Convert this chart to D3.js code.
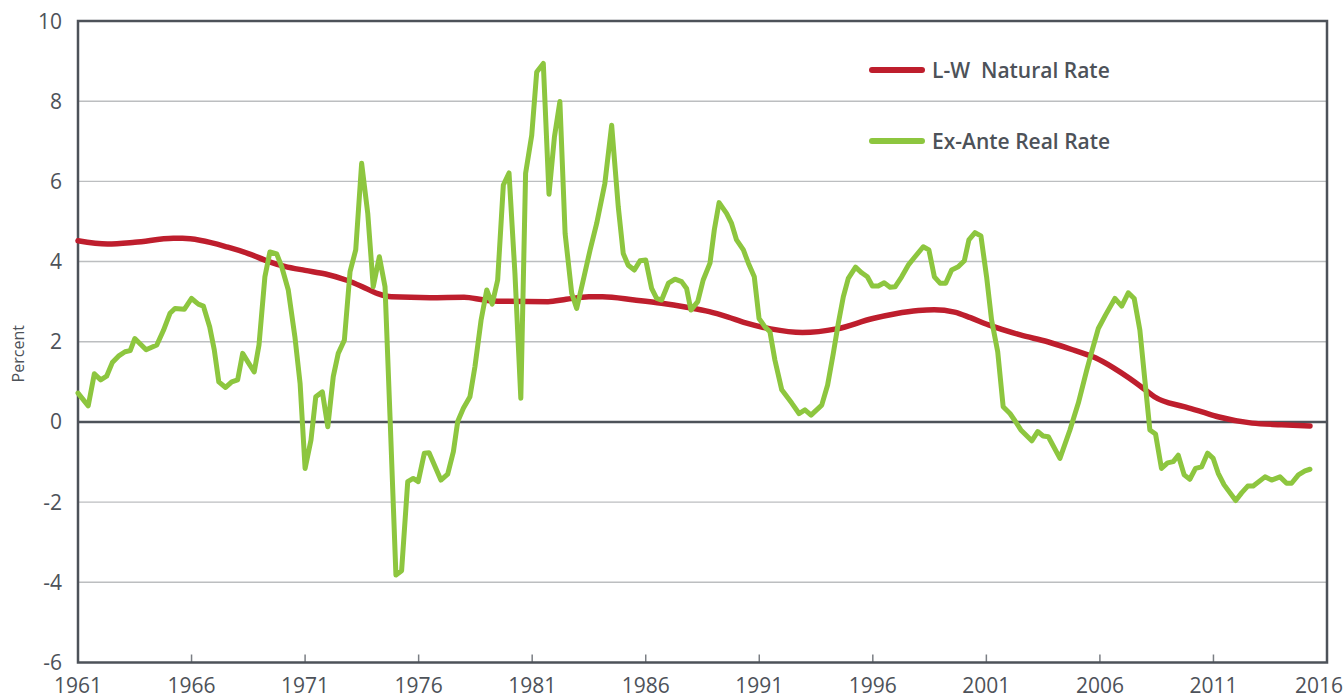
<!DOCTYPE html>
<html>
<head>
<meta charset="utf-8">
<script src="https://cdn.jsdelivr.net/npm/d3@7"></script>
<style>
  html, body { margin: 0; padding: 0; background: #fff; }
  svg { display: block; font-family: "Open Sans", "Noto Sans", sans-serif; }
  .grid line { stroke: #bcbec0; stroke-width: 1.4; }
  .tick-label { fill: #4d5259; font-size: 21px; }
  .legend-label { fill: #4d5259; font-size: 21px; font-weight: 600; }
</style>
</head>
<body>
<svg id="chart" width="1344" height="700"></svg>
<script>
// L-W natural rate (decimal year, percent)
const naturalYears = [1961.0, 1962.3, 1963.5, 1965.2, 1965.6, 1967.6, 1968.5, 1969.4, 1970.1, 1971.0,
  1971.9, 1972.8, 1973.5, 1974.2, 1974.8, 1976.5, 1978.0, 1978.9, 1979.6, 1981.7,
  1982.5, 1983.5, 1984.1, 1985.5, 1986.7, 1987.8, 1988.8, 1989.6, 1990.4, 1991.5,
  1992.9, 1994.4, 1996.0, 1997.0, 1998.0, 1998.7, 1999.6, 2000.3, 2001.1, 2002.5,
  2003.7, 2004.8, 2005.8, 2006.6, 2007.3, 2008.0, 2008.4, 2009.7, 2010.5, 2011.2,
  2012.7, 2014.0, 2015.25];
const naturalRate = [4.52, 4.44, 4.48, 4.58, 4.58, 4.36, 4.2, 4.0, 3.88, 3.78,
  3.69, 3.54, 3.38, 3.2, 3.12, 3.1, 3.11, 3.04, 3.01, 3.0,
  3.06, 3.12, 3.12, 3.04, 2.96, 2.86, 2.75, 2.62, 2.47, 2.32,
  2.23, 2.32, 2.58, 2.7, 2.78, 2.8, 2.74, 2.6, 2.42, 2.17,
  2.0, 1.8, 1.6, 1.35, 1.09, 0.8, 0.63, 0.38, 0.25, 0.13,
  -0.03, -0.07, -0.1];

// Ex-ante real rate vertices
const realYears = [1961.0, 1961.45, 1961.72, 1962.0, 1962.26, 1962.51, 1962.78, 1963.07, 1963.3, 1963.5,
  1964.0, 1964.47, 1964.76, 1965.05, 1965.27, 1965.68, 1966.0, 1966.3, 1966.52, 1966.8,
  1967.0, 1967.2, 1967.5, 1967.77, 1968.03, 1968.25, 1968.5, 1968.76, 1968.97, 1969.23,
  1969.45, 1969.75, 1969.97, 1970.26, 1970.55, 1970.78, 1971.0, 1971.26, 1971.47, 1971.76,
  1972.0, 1972.24, 1972.46, 1972.73, 1972.98, 1973.23, 1973.49, 1973.76, 1974.0, 1974.27,
  1974.52, 1974.74, 1975.0, 1975.25, 1975.52, 1975.76, 1975.98, 1976.25, 1976.46, 1976.98,
  1977.28, 1977.53, 1977.72, 1977.97, 1978.26, 1978.48, 1978.75, 1979.0, 1979.24, 1979.48,
  1979.73, 1979.98, 1980.24, 1980.5, 1980.71, 1980.98, 1981.2, 1981.49, 1981.74, 1981.98,
  1982.22, 1982.45, 1982.74, 1982.96, 1983.25, 1983.55, 1983.84, 1984.2, 1984.5, 1984.79,
  1985.01, 1985.23, 1985.5, 1985.75, 1986.0, 1986.26, 1986.48, 1986.7, 1987.0, 1987.29,
  1987.58, 1987.8, 1987.99, 1988.29, 1988.53, 1988.83, 1989.02, 1989.23, 1989.56, 1989.78,
  1990.0, 1990.3, 1990.52, 1990.78, 1990.99, 1991.25, 1991.47, 1991.69, 1991.99, 1992.43,
  1992.75, 1993.01, 1993.28, 1993.75, 1994.01, 1994.26, 1994.48, 1994.7, 1994.92, 1995.24,
  1995.51, 1995.76, 1995.98, 1996.24, 1996.5, 1996.76, 1996.98, 1997.27, 1997.56, 1997.83,
  1998.22, 1998.47, 1998.71, 1998.96, 1999.21, 1999.47, 1999.76, 2000.03, 2000.23, 2000.5,
  2000.76, 2001.01, 2001.23, 2001.5, 2001.74, 2002.04, 2002.26, 2002.52, 2003.0, 2003.26,
  2003.5, 2003.73, 2004.24, 2004.68, 2005.05, 2005.42, 2005.66, 2005.93, 2006.25, 2006.66,
  2006.96, 2007.25, 2007.51, 2007.76, 2007.98, 2008.2, 2008.45, 2008.71, 2008.98, 2009.23,
  2009.45, 2009.71, 2009.96, 2010.21, 2010.48, 2010.74, 2010.99, 2011.21, 2011.47, 2011.98,
  2012.24, 2012.51, 2012.75, 2013.27, 2013.56, 2013.93, 2014.22, 2014.44, 2014.74, 2015.03,
  2015.25];
const realRate = [0.72, 0.40, 1.20, 1.05, 1.14, 1.48, 1.64, 1.75, 1.78, 2.08,
  1.80, 1.92, 2.28, 2.71, 2.83, 2.81, 3.08, 2.94, 2.89, 2.37,
  1.80, 1.0, 0.86, 1.0, 1.05, 1.71, 1.48, 1.25, 1.92, 3.62,
  4.24, 4.19, 3.87, 3.29, 2.13, 0.96, -1.16, -0.45, 0.63, 0.75,
  -0.12, 1.13, 1.71, 2.04, 3.75, 4.29, 6.45, 5.2, 3.37, 4.12,
  3.37, 0.13, -3.82, -3.71, -1.49, -1.41, -1.49, -0.78, -0.77, -1.45,
  -1.30, -0.74, 0.01, 0.34, 0.63, 1.38, 2.54, 3.29, 2.94, 3.54,
  5.91, 6.21, 3.71, 0.59, 6.2, 7.15, 8.73, 8.94, 5.68, 7.11,
  7.99, 4.70, 3.21, 2.83, 3.54, 4.29, 4.95, 5.95, 7.40, 5.37,
  4.2, 3.91, 3.79, 4.02, 4.04, 3.33, 3.08, 3.04, 3.46, 3.56,
  3.5, 3.33, 2.79, 3.0, 3.54, 3.96, 4.79, 5.47, 5.2, 4.95,
  4.54, 4.29, 3.96, 3.62, 2.58, 2.37, 2.25, 1.54, 0.80, 0.47,
  0.21, 0.30, 0.17, 0.42, 0.92, 1.71, 2.46, 3.12, 3.58, 3.86,
  3.72, 3.62, 3.39, 3.39, 3.47, 3.36, 3.37, 3.62, 3.91, 4.1,
  4.37, 4.29, 3.62, 3.46, 3.46, 3.79, 3.87, 4.02, 4.54, 4.72,
  4.64, 3.62, 2.54, 1.75, 0.38, 0.21, 0.03, -0.2, -0.47, -0.24,
  -0.35, -0.37, -0.91, -0.2, 0.47, 1.29, 1.79, 2.33, 2.67, 3.08,
  2.89, 3.22, 3.08, 2.29, 1.04, -0.2, -0.3, -1.16, -1.02, -0.99,
  -0.83, -1.32, -1.43, -1.16, -1.12, -0.78, -0.91, -1.28, -1.57, -1.96,
  -1.77, -1.60, -1.60, -1.37, -1.45, -1.37, -1.53, -1.53, -1.32, -1.22,
  -1.18];

const xTicks = [1961, 1966, 1971, 1976, 1981, 1986, 1991, 1996, 2001, 2006, 2011, 2016];
const yTicks = [-6, -4, -2, 0, 2, 4, 6, 8, 10];

const seriesNames = ['L-W  Natural Rate', 'Ex-Ante Real Rate'];
const seriesColors = ['#be1e2d', '#8dc63f'];

const svg = d3.select('#chart');
const plot = { left: 78, right: 1327, top: 21, bottom: 662.5 };
const axisColor = '#4d5259';

const x = d3.scaleLinear().domain([1961, 2016]).range([plot.left, plot.right]);
const y = d3.scaleLinear().domain([-6, 10]).range([plot.bottom, plot.top]);

// horizontal grid lines
svg.append('g')
  .attr('class', 'grid')
  .selectAll('line')
  .data(yTicks.filter((d) => d !== 0 && d !== -6 && d !== 10))
  .join('line')
  .attr('x1', plot.left)
  .attr('x2', plot.right)
  .attr('y1', (d) => y(d))
  .attr('y2', (d) => y(d));

// y tick labels
svg.append('g')
  .selectAll('text')
  .data(yTicks)
  .join('text')
  .attr('class', 'tick-label')
  .attr('x', plot.left - 16)
  .attr('y', (d) => y(d))
  .attr('dy', '0.36em')
  .attr('text-anchor', 'end')
  .text((d) => d);

// x ticks, pointing up into the plot
svg.append('g')
  .selectAll('line')
  .data(xTicks.slice(1, -1))
  .join('line')
  .attr('x1', (d) => x(d))
  .attr('x2', (d) => x(d))
  .attr('y1', plot.bottom)
  .attr('y2', plot.bottom - 8)
  .attr('stroke', '#7a7e84')
  .attr('stroke-width', 1.5);

// last label sits flush with the right edge, as in the original
const lastTick = xTicks[xTicks.length - 1];
svg.append('g')
  .selectAll('text')
  .data(xTicks)
  .join('text')
  .attr('class', 'tick-label')
  .attr('x', (d) => (d === lastTick ? 1343 : x(d)))
  .attr('y', 693)
  .attr('text-anchor', (d) => (d === lastTick ? 'end' : 'middle'))
  .text((d) => d);

svg.append('text')
  .attr('class', 'tick-label')
  .attr('transform', `translate(24, ${y(2) + 12}) rotate(-90)`)
  .attr('text-anchor', 'middle')
  .style('font-size', '16px')
  .text('Percent');

// frame and zero line
svg.append('rect')
  .attr('x', plot.left)
  .attr('y', plot.top)
  .attr('width', plot.right - plot.left)
  .attr('height', plot.bottom - plot.top)
  .attr('fill', 'none')
  .attr('stroke', axisColor)
  .attr('stroke-width', 2.5);

svg.append('line')
  .attr('x1', plot.left)
  .attr('x2', plot.right)
  .attr('y1', y(0))
  .attr('y2', y(0))
  .attr('stroke', axisColor)
  .attr('stroke-width', 2.5);

const naturalData = naturalYears.map((yr, i) => ({ x: yr, y: naturalRate[i] }));
const realData = realYears.map((yr, i) => ({ x: yr, y: realRate[i] }));

svg.append('path')
  .datum(naturalData)
  .attr('fill', 'none')
  .attr('stroke', seriesColors[0])
  .attr('stroke-width', 5.5)
  .attr('stroke-linecap', 'round')
  .attr('d', d3.line().x((d) => x(d.x)).y((d) => y(d.y)).curve(d3.curveMonotoneX));

svg.append('path')
  .datum(realData)
  .attr('fill', 'none')
  .attr('stroke', seriesColors[1])
  .attr('stroke-width', 5)
  .attr('stroke-linejoin', 'round')
  .attr('stroke-linecap', 'round')
  .attr('d', d3.line().x((d) => x(d.x)).y((d) => y(d.y)));

// legend
const legend = svg.append('g')
  .selectAll('g')
  .data(seriesNames)
  .join('g')
  .attr('transform', (d, i) => `translate(872, ${70 + i * 71})`);

legend.append('line')
  .attr('x1', 0)
  .attr('x2', 50)
  .attr('stroke', (d, i) => seriesColors[i])
  .attr('stroke-width', 6)
  .attr('stroke-linecap', 'round');

legend.append('text')
  .attr('class', 'legend-label')
  .attr('x', 60)
  .attr('dy', '0.36em')
  .style('white-space', 'pre')
  .text((d) => d);
</script>
</body>
</html>
